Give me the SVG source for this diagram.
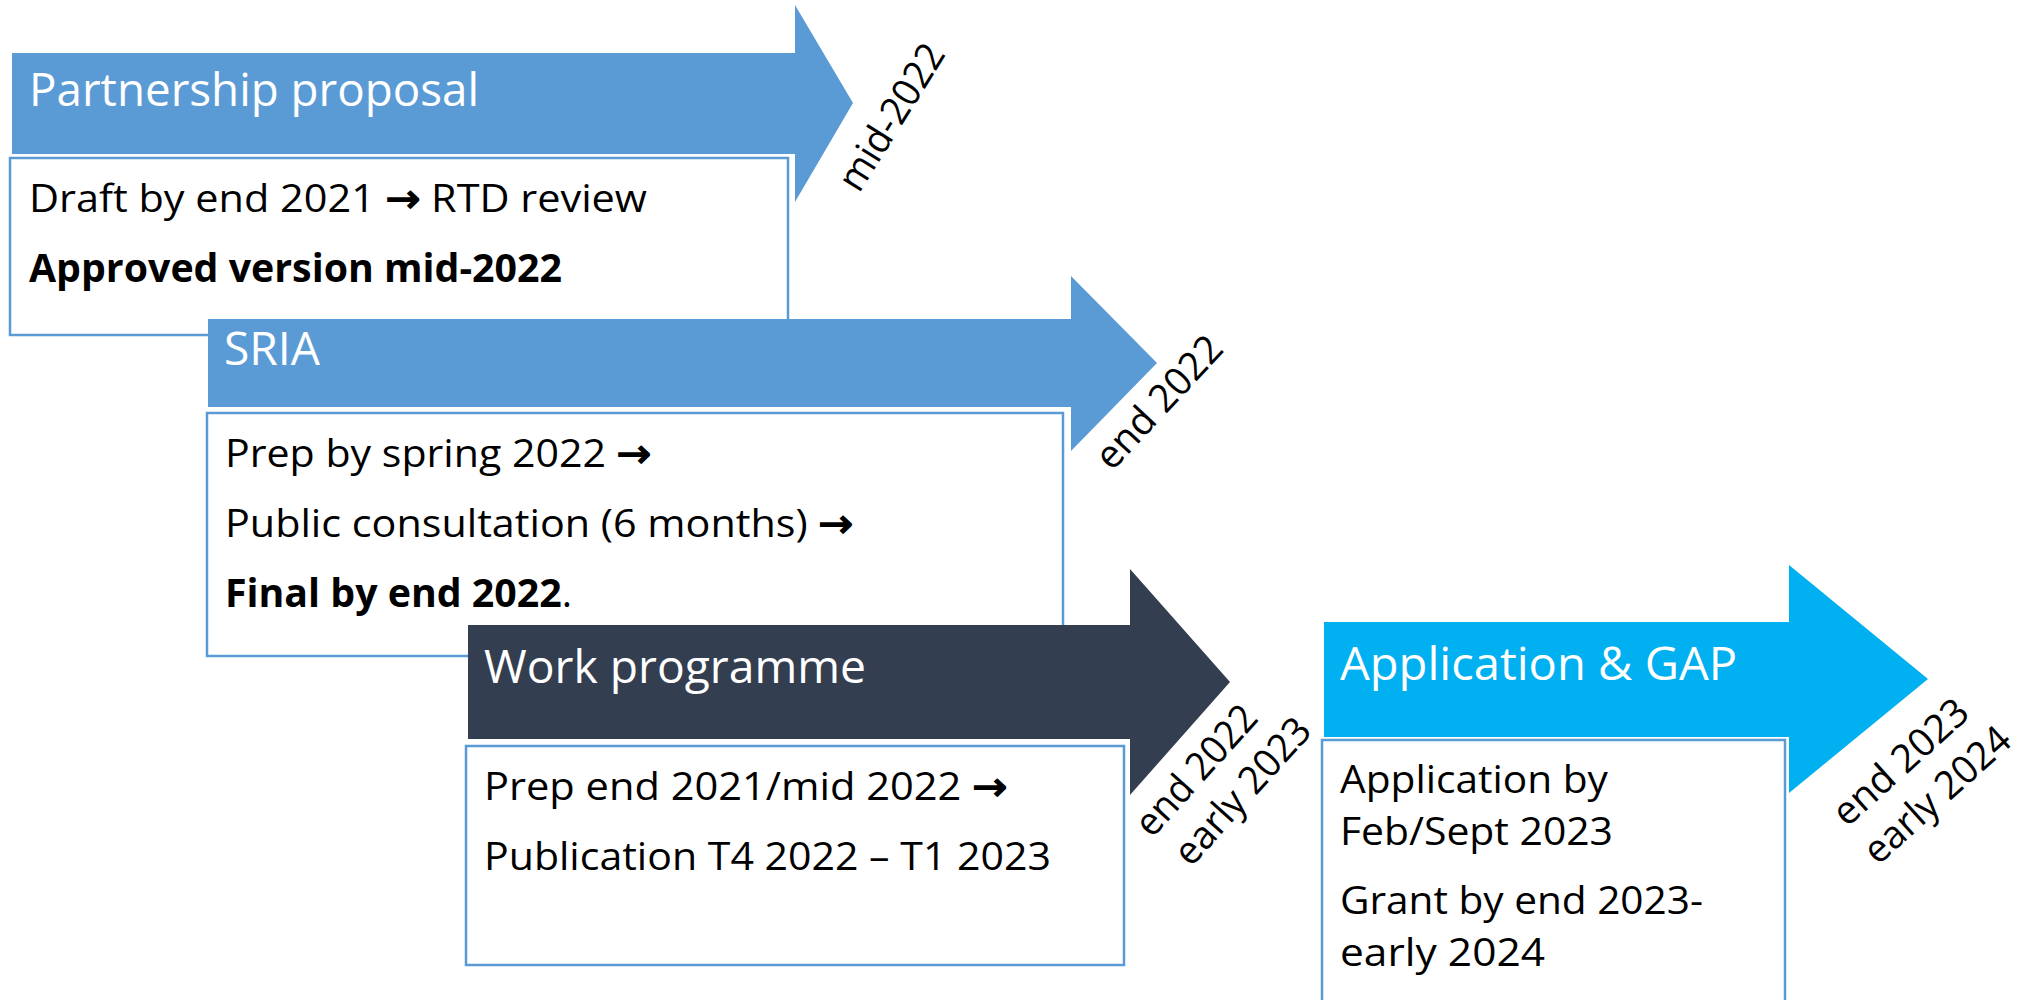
<svg xmlns="http://www.w3.org/2000/svg" width="2035" height="1000" viewBox="0 0 2035 1000">
<style>
.box{fill:#ffffff;stroke:#5B9BD5;stroke-width:2.5}
.t{font-family:"Open Sans","DejaVu Sans",sans-serif;font-size:46px;fill:#ffffff}
.b{font-family:"Open Sans","DejaVu Sans",sans-serif;font-size:39px;fill:#000000}
.bold{font-weight:bold}
.arr{stroke:#000000;stroke-width:1.6}
.lbl{font-family:"Open Sans","DejaVu Sans",sans-serif;font-size:39px;fill:#000000}
</style>
<rect x="0" y="0" width="2035" height="1000" fill="#ffffff"/>
<g id="connectors"/>
<g id="node-partnership">
<polygon points="12,53 795,53 795,5 853,103 795,202 795,154 12,154" fill="#5B9BD5"/>
<rect class="box" x="10" y="158" width="778" height="177"/>
<text class="t" x="29" y="106" textLength="450" lengthAdjust="spacingAndGlyphs">Partnership proposal</text>
<text class="b" x="29" y="212" textLength="618" lengthAdjust="spacingAndGlyphs">Draft by end 2021 <tspan class="arr">→</tspan> RTD review</text>
<text class="b bold" x="29" y="282" textLength="533" lengthAdjust="spacingAndGlyphs">Approved version mid-2022</text>
<text class="lbl" transform="translate(859,194) rotate(-58)" textLength="165" lengthAdjust="spacingAndGlyphs">mid-2022</text>
</g>
<g id="node-sria">
<polygon points="208,319 1071,319 1071,276 1157,363 1071,451 1071,407 208,407" fill="#5B9BD5"/>
<rect class="box" x="207" y="413" width="856" height="243"/>
<text class="t" x="224" y="365" textLength="96" lengthAdjust="spacingAndGlyphs">SRIA</text>
<text class="b" x="225" y="467" textLength="426" lengthAdjust="spacingAndGlyphs">Prep by spring 2022 <tspan class="arr">→</tspan></text>
<text class="b" x="225" y="537" textLength="628" lengthAdjust="spacingAndGlyphs">Public consultation (6 months) <tspan class="arr">→</tspan></text>
<text class="b" x="225" y="607" textLength="347" lengthAdjust="spacingAndGlyphs"><tspan class="bold">Final by end 2022</tspan>.</text>
<text class="lbl" transform="translate(1112,472) rotate(-47)" textLength="166" lengthAdjust="spacingAndGlyphs">end 2022</text>
</g>
<g id="node-work-programme">
<polygon points="468,625 1130,625 1130,569 1230,682 1130,795 1130,739 468,739" fill="#333F50"/>
<rect class="box" x="466" y="746" width="658" height="219"/>
<text class="t" x="484" y="683" textLength="382" lengthAdjust="spacingAndGlyphs">Work programme</text>
<text class="b" x="484" y="800" textLength="523" lengthAdjust="spacingAndGlyphs">Prep end 2021/mid 2022 <tspan class="arr">→</tspan></text>
<text class="b" x="484" y="870" textLength="567" lengthAdjust="spacingAndGlyphs">Publication T4 2022 – T1 2023</text>
<text class="lbl" transform="translate(1152,839) rotate(-48)" textLength="161" lengthAdjust="spacingAndGlyphs">end 2022</text>
<text class="lbl" transform="translate(1191,868) rotate(-48)" textLength="183" lengthAdjust="spacingAndGlyphs">early 2023</text>
</g>
<g id="node-application">
<polygon points="1324,622 1789,622 1789,565 1928,679 1789,793 1789,737 1324,737" fill="#00B0F0"/>
<rect class="box" x="1322" y="740" width="463" height="265"/>
<text class="t" x="1340" y="680" textLength="397" lengthAdjust="spacingAndGlyphs">Application &amp; GAP</text>
<text class="b" x="1340" y="793" textLength="268" lengthAdjust="spacingAndGlyphs">Application by</text>
<text class="b" x="1340" y="845" textLength="273" lengthAdjust="spacingAndGlyphs">Feb/Sept 2023</text>
<text class="b" x="1340" y="914" textLength="363" lengthAdjust="spacingAndGlyphs">Grant by end 2023-</text>
<text class="b" x="1340" y="966" textLength="205" lengthAdjust="spacingAndGlyphs">early 2024</text>
<text class="lbl" transform="translate(1847,828) rotate(-42)" textLength="168" lengthAdjust="spacingAndGlyphs">end 2023</text>
<text class="lbl" transform="translate(1878,866) rotate(-42)" textLength="183" lengthAdjust="spacingAndGlyphs">early 2024</text>
</g>
</svg>
